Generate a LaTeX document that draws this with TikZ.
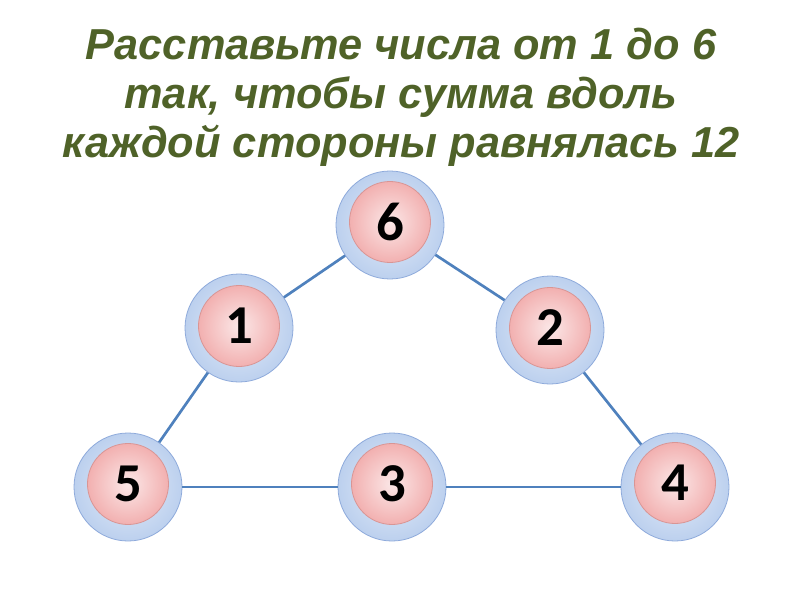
\documentclass[tikz,border=0pt]{standalone}
\usepackage{fontspec}
\setmainfont{Liberation Sans}
\newfontfamily\digitfont{Carlito}
\usetikzlibrary{positioning}
\definecolor{titlegreen}{HTML}{4F6228}
\definecolor{edgeblue}{HTML}{4F81BD}
\definecolor{ringline}{HTML}{8EAADB}
\definecolor{ringfill}{HTML}{BCD0EE}
\definecolor{ballline}{HTML}{D99594}
\definecolor{ballfill}{HTML}{F2B0B0}

\begin{document}
\begin{tikzpicture}[
  x=1bp, y=-1bp,
  ring/.style={circle, draw=ringline, line width=0.8pt, minimum size=108bp, inner sep=0pt,
    inner color=ringfill!40, outer color=ringfill},
  ball/.style={circle, draw=ballline, line width=0.8pt, minimum size=81bp, inner sep=0pt,
    inner color=ballfill!30, outer color=ballfill,
    font=\digitfont\bfseries\fontsize{55}{55}\selectfont},
  side/.style={draw=edgeblue, line width=2.7pt},
  title/.style={align=center, text=titlegreen,
    font=\bfseries\itshape\fontsize{43.5}{49}\selectfont}
]
\useasboundingbox (0,0) rectangle (800,600);
\node[title] (head) at (401,97) {Расставьте числа от 1 до 6\\так, чтобы сумма вдоль\\каждой стороны равнялась 12};
\node[ring] (r6) at (390,225) {};
\node[ring] (r1) at (239,328) {};
\node[ring] (r2) at (550,330) {};
\node[ring] (r5) at (128,487) {};
\node[ring] (r3) at (392,487) {};
\node[ring] (r4) at (675,487) {};
\node[ball] (b6) at (390,222) {6};
\node[ball] (b1) at (239,326) {1};
\node[ball] (b2) at (550,328) {2};
\node[ball] (b5) at (128,484) {5};
\node[ball] (b3) at (392,484) {3};
\node[ball] (b4) at (675,483) {4};
\draw[side] (r5) -- (r1);
\draw[side] (r1) -- (r6);
\draw[side] (r6) -- (r2);
\draw[side] (r2) -- (r4);
\draw[side] (r5) -- (r3);
\draw[side] (r3) -- (r4);
\end{tikzpicture}
\end{document}
